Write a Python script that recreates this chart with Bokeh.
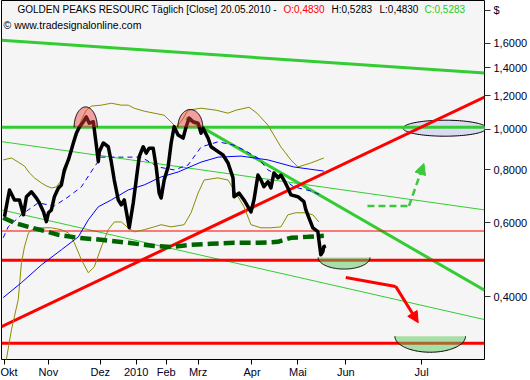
import numpy as np
from bokeh.plotting import figure
from bokeh.models import FixedTicker, Label, Arrow, NormalHead, Range1d
from bokeh.embed import file_html
from bokeh.resources import INLINE

# ---------------- data (x = trading-day index from 1 Oct 2009) ----------------
price_x = [0, 2.5, 5, 7.5, 9.5, 11, 13.5, 16, 17.5, 19.5, 21, 22, 23.5, 25, 27, 28.5, 30, 32, 33.5, 34.5,
           36, 37.5, 39.5, 41, 42.5, 44.5, 46, 47, 47.5, 49.5, 52, 53.5, 55, 57, 58.5, 60, 62.5, 64.5, 66,
           67.5, 69.5, 71, 72.5, 74.5, 76, 77.5, 78.5, 80, 82, 83.5, 85, 87, 89.5, 91, 92.5, 94.5, 97, 98.5,
           99.5, 102, 103.5, 107, 109.5, 112, 114.5, 115, 117.5, 120, 123.5, 125, 127, 128.5, 130, 132,
           133.5, 135, 137, 138.5, 140, 142, 143.5, 147, 150, 151, 152.5, 154.5, 157, 157.5, 158.5, 159.5,
           160, 161]
price_y = [0.620, 0.717, 0.679, 0.679, 0.626, 0.691, 0.710, 0.686, 0.668, 0.637, 0.603, 0.633, 0.643, 0.691,
           0.725, 0.737, 0.800, 0.845, 0.892, 0.927, 0.978, 1.011, 1.041, 1.069, 1.033, 1.041, 0.917, 0.837,
           0.884, 0.927, 0.908, 0.837, 0.757, 0.679, 0.661, 0.679, 0.583, 0.668, 0.757, 0.860, 0.908, 0.877,
           0.901, 0.901, 0.814, 0.705, 0.686, 0.757, 0.814, 0.927, 1.013, 0.968, 0.952, 1.013, 1.062, 1.041,
           1.033, 0.978, 1.005, 0.952, 0.908, 0.884, 0.868, 0.831, 0.766, 0.691, 0.705, 0.679, 0.636, 0.679,
           0.778, 0.757, 0.730, 0.750, 0.725, 0.787, 0.766, 0.778, 0.757, 0.725, 0.698, 0.691, 0.673, 0.643,
           0.616, 0.583, 0.571, 0.546, 0.503, 0.512, 0.526, 0.5283]

bb_upper_x = [-0.65, 3.5, 6.9, 10, 12.5, 15, 18.5, 21, 23.5, 26, 28.5, 31, 33.5, 36, 38.5, 41, 43.5, 48.5,
              53.5, 58.5, 62, 65, 70, 75, 80, 83.5, 86, 89, 92, 98.5, 106, 112, 116, 122.5, 126.5, 132,
              138.5, 143.5, 147, 153.5, 160]
bb_upper_y = [0.845, 0.854, 0.835, 0.817, 0.787, 0.766, 0.745, 0.733, 0.725, 0.729, 0.757, 0.800, 0.892,
              0.957, 1.050, 1.109, 1.134, 1.140, 1.152, 1.140, 1.140, 1.121, 1.103, 1.091, 1.079, 1.039,
              1.011, 1.050, 1.109, 1.121, 1.109, 1.091, 1.109, 1.127, 1.091, 1.022, 0.907, 0.845, 0.813,
              0.831, 0.854]

bb_lower_x = [0.5, 3.5, 6.9, 8.5, 10, 12, 15, 23.5, 28.5, 32, 35, 38.5, 42, 45, 48.5, 52, 55, 58.5, 62, 65,
              70, 75, 78.5, 83.5, 90, 93.5, 97, 100, 107, 112, 115, 120, 123.5, 128.5, 133.5, 138.5, 142,
              146, 151, 154.5, 157.5]
bb_lower_y = [0.276, 0.334, 0.394, 0.482, 0.525, 0.567, 0.583, 0.583, 0.577, 0.567, 0.537, 0.490, 0.456,
              0.471, 0.525, 0.577, 0.602, 0.602, 0.583, 0.570, 0.577, 0.586, 0.593, 0.586, 0.593, 0.633,
              0.705, 0.757, 0.766, 0.757, 0.717, 0.654, 0.593, 0.583, 0.583, 0.586, 0.626, 0.633, 0.633,
              0.626, 0.602]

ma_long_x = [-0.65, 8.5, 18.5, 28.5, 37, 42, 47, 53.5, 62, 70, 78.5, 87, 98.5, 107, 118.5, 132, 145, 160]
ma_long_y = [0.398, 0.432, 0.476, 0.517, 0.555, 0.609, 0.654, 0.679, 0.717, 0.737, 0.770, 0.791, 0.835,
             0.858, 0.863, 0.845, 0.813, 0.795]

ma_short_x = [-0.65, 1.85, 8.5, 16.85, 25, 31.85, 38.5, 45, 48.5, 58.5, 68.5, 77, 85, 92, 98.5, 107, 115,
              120, 127, 132, 137, 145, 153.5, 158.5]
ma_short_y = [0.552, 0.586, 0.626, 0.668, 0.657, 0.690, 0.729, 0.813, 0.858, 0.858, 0.858, 0.813, 0.800,
              0.822, 0.907, 0.933, 0.916, 0.892, 0.854, 0.800, 0.778, 0.729, 0.713, 0.698]

ma_slow_x = [-0.65, 5, 12, 20, 27, 37, 48.5, 62, 75, 83.5, 93.5, 103.5, 115, 127, 137, 143.5, 152, 160]
ma_slow_y = [0.616, 0.599, 0.586, 0.573, 0.561, 0.552, 0.546, 0.537, 0.528, 0.525, 0.531, 0.534, 0.537,
             0.537, 0.540, 0.552, 0.555, 0.558]

x_start, x_end = -1.5, 240.5
y_low, y_high = 0.2838, 2.02

# trend lines / levels
top_line_y = [1.625, 1.359]
resistance_level = 1.01
thin_support_level = 0.573
support_level = 0.488
target_level = 0.31
up_trend_y = [0.3397, 1.1906]
down_trend_x = [91, 240.5]
down_trend_y = [1.0618, 0.4145]
chan_upper_y = [0.934, 0.643]
chan_lower_y = [0.643, 0.353]

# marks drawn on the chart
dome_cx = [40.7, 93.1]
dome_halfw = [5.8, 6.25]
dome_top = [1.129, 1.113]
bowl_cx = [170.15, 213.3]
bowl_halfw = [13.0, 17.7]
bowl_top = [0.4958, 0.3222]
bowl_bottom = [0.4653, 0.2953]
oval_cx, oval_halfw, oval_top, oval_bottom = 220.6, 20.9, 1.05, 0.962

red_arrow_x = [171, 196, 207.3]
red_arrow_y = [0.4445, 0.4232, 0.347]
green_arrow_x = [181.85, 202.65, 210.15]
green_arrow_y = [0.657, 0.657, 0.829]

x_tick_pos = [0, 22, 48, 66, 81, 97, 124, 147, 171, 209]
x_tick_labels = ["Okt", "Nov", "Dez", "2010", "Feb", "Mrz", "Apr", "Mai", "Jun", "Jul"]
y_tick_pos = [0.4, 0.6, 0.8, 1.0, 1.2, 1.4, 1.6, 1.913]
y_tick_labels = ["0,4000", "0,6000", "0,8000", "1,0000", "1,2000", "1,4000", "1,6000", "$"]

FONT = "Liberation Sans"

p = figure(width=530, height=380, x_range=Range1d(x_start, x_end), y_range=Range1d(y_low, y_high),
           y_axis_type="log", y_axis_location="right", output_backend="svg", toolbar_location=None,
           min_border_left=1, min_border_top=0, min_border_right=46, min_border_bottom=20,
           background_fill_color="#f5f5f5", border_fill_color="white",
           outline_line_color="black", outline_line_width=1)
p.xgrid.visible = False
p.ygrid.visible = False

xa = p.xaxis[0]
xa.ticker = FixedTicker(ticks=x_tick_pos)
xa.major_label_overrides = {k: v for k, v in zip(x_tick_pos, x_tick_labels)}
xa.major_label_text_align = "left"
xa.axis_line_color = None
xa.major_tick_in = 0
xa.major_tick_out = 5
xa.major_tick_line_color = "black"
xa.minor_tick_line_color = None
xa.major_label_standoff = 1
xa.major_label_text_font = FONT
xa.major_label_text_font_size = "11px"
xa.major_label_text_color = "#000022"

ya = p.yaxis[0]
ya.ticker = FixedTicker(ticks=y_tick_pos)
ya.major_label_overrides = {k: v for k, v in zip(y_tick_pos, y_tick_labels)}
ya.axis_line_color = None
ya.major_tick_in = 0
ya.major_tick_out = 6
ya.major_tick_line_color = "#333333"
ya.minor_tick_line_color = None
ya.major_label_standoff = 3
ya.major_label_text_font = FONT
ya.major_label_text_font_size = "11px"
ya.major_label_text_color = "#000022"


def half_ellipse(cx, halfw, base, other, n=80):
    t = np.linspace(0, np.pi, n)
    xs = cx + halfw * np.cos(t)
    ys = base * np.exp(np.log(other / base) * np.sin(t))
    return xs, ys


# lavender oval (under the lines)
oc = np.sqrt(oval_top * oval_bottom)
t = np.linspace(0, 2 * np.pi, 120)
p.patch(oval_cx + oval_halfw * np.cos(t), oc * np.exp(np.log(oval_top / oc) * np.sin(t)),
        fill_color="#dadaf2", line_color="black", line_width=1)

GREEN = "#33cc33"
RED = "#ff0000"
# channel and trend lines
p.line([x_start, x_end], chan_upper_y, line_color=GREEN, line_width=1)
p.line([x_start, x_end], chan_lower_y, line_color=GREEN, line_width=1)
p.line([x_start, x_end], top_line_y, line_color=GREEN, line_width=3)
p.line([x_start, x_end], [resistance_level] * 2, line_color=GREEN, line_width=3)
p.line(down_trend_x, down_trend_y, line_color=GREEN, line_width=3)
p.line([x_start, x_end], [thin_support_level] * 2, line_color=RED, line_width=1.2)
p.line([x_start, x_end], [support_level] * 2, line_color=RED, line_width=3)
p.line([x_start, x_end], [target_level] * 2, line_color=RED, line_width=3)
p.line([x_start, x_end], up_trend_y, line_color=RED, line_width=3)

# indicators
p.line(bb_upper_x, bb_upper_y, line_color="#8b8b00", line_width=1)
p.line(bb_lower_x, bb_lower_y, line_color="#8b8b00", line_width=1)
p.line(ma_long_x, ma_long_y, line_color="#0000ff", line_width=1)
p.line(ma_short_x, ma_short_y, line_color="#0000ff", line_width=1, line_dash="5 4")
p.line(ma_slow_x, ma_slow_y, line_color="#006400", line_width=4.5, line_dash="11 5")

# price
p.line(price_x, price_y, line_color="black", line_width=3.5, line_join="round")

# red domes at the two tops
for cx, hw, top in zip(dome_cx, dome_halfw, dome_top):
    xs, ys = half_ellipse(cx, hw, resistance_level, top)
    p.patch(xs, ys, fill_color="#ee3a3a", fill_alpha=0.45, line_color=None)
    p.line(xs, ys, line_color="black", line_width=1)

# green bowls at the targets
for cx, hw, top, bot in zip(bowl_cx, bowl_halfw, bowl_top, bowl_bottom):
    xs, ys = half_ellipse(cx, hw, top, bot)
    p.patch(xs, ys, fill_color="#5cc85c", fill_alpha=0.5, line_color=None)
    p.line(xs, ys, line_color="black", line_width=1)

# red arrow
p.line(red_arrow_x[:2], red_arrow_y[:2], line_color=RED, line_width=3)
p.add_layout(Arrow(end=NormalHead(size=11, fill_color=RED, line_color=RED),
                   x_start=red_arrow_x[1], y_start=red_arrow_y[1],
                   x_end=red_arrow_x[2], y_end=red_arrow_y[2],
                   line_color=RED, line_width=3))

# green dashed arrow
p.line(green_arrow_x[:2], green_arrow_y[:2], line_color="#3cc83c", line_width=2.5, line_dash="7 4")
p.add_layout(Arrow(end=NormalHead(size=11, fill_color="#3cc83c", line_color="#3cc83c"),
                   x_start=green_arrow_x[1], y_start=green_arrow_y[1],
                   x_end=green_arrow_x[2], y_end=green_arrow_y[2],
                   line_color="#3cc83c", line_width=2.5, line_dash="7 4"))

# header texts (x in screen pixels from the left of the plot frame)
title_parts = [("GOLDEN PEAKS RESOURC Täglich [Close]", "black", 16),
               ("20.05.2010 -", "black", 219),
               ("O:0,4830", "#ff0000", 282),
               ("H:0,5283", "black", 330),
               ("L:0,4830", "black", 378),
               ("C:0,5283", "#22cc22", 423)]
for txt, col, xs in title_parts:
    p.add_layout(Label(x=xs, y=1.977, x_units="screen", y_units="data", text=txt, text_color=col,
                       text_font=FONT, text_font_size="10px", text_baseline="top"))
p.add_layout(Label(x=2, y=1.822, x_units="screen", y_units="data", text="© www.tradesignalonline.com",
                   text_color="black", text_font=FONT, text_font_size="10.5px", text_baseline="top"))

open("out.html", "w").write(file_html(p, INLINE))
